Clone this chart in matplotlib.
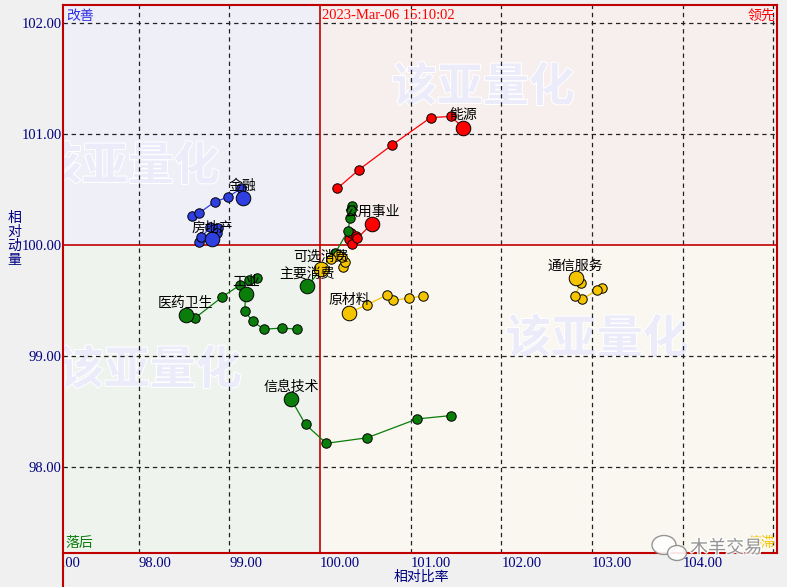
import matplotlib
matplotlib.use('Agg')
import matplotlib.pyplot as plt
import matplotlib.patheffects as pe
from matplotlib.patches import Rectangle, Ellipse
from matplotlib.lines import Line2D
from matplotlib.transforms import Bbox

CJK = ['Noto Sans CJK SC', 'DejaVu Sans']
plt.rcParams['font.family'] = CJK

# ---------------- data (oldest -> latest, last point = current) ----------------
energy_rs = [100.19, 100.43, 100.79, 101.22, 101.44, 101.58]
energy_rm = [100.51, 100.68, 100.90, 101.15, 101.16, 101.06]

utilities_rs = [100.32, 100.35, 100.34, 100.40, 100.41, 100.57]
utilities_rm = [100.05, 100.01, 100.11, 100.08, 100.06, 100.19]

staples_rs = [100.35, 100.34, 100.33, 100.31, 100.17, 99.86]
staples_rm = [100.35, 100.32, 100.24, 100.13, 99.93, 99.63]

discretionary_rs = [100.25, 100.27, 100.24, 100.20, 100.12, 100.01]
discretionary_rm = [99.80, 99.85, 99.89, 99.91, 99.87, 99.78]

health_rs = [99.31, 99.22, 99.12, 98.92, 98.62, 98.52]
health_rm = [99.70, 99.68, 99.64, 99.53, 99.34, 99.37]

industrials_rs = [99.75, 99.58, 99.38, 99.26, 99.17, 99.18]
industrials_rm = [99.24, 99.25, 99.24, 99.31, 99.40, 99.56]

tech_rs = [101.44, 101.07, 100.52, 100.07, 99.84, 99.68]
tech_rm = [98.46, 98.43, 98.26, 98.21, 98.38, 98.61]

materials_rs = [101.14, 100.98, 100.81, 100.74, 100.52, 100.32]
materials_rm = [99.54, 99.52, 99.50, 99.55, 99.46, 99.39]

telecom_rs = [103.11, 103.05, 102.89, 102.81, 102.88, 102.82]
telecom_rm = [99.61, 99.59, 99.51, 99.54, 99.66, 99.70]

finance_rs = [98.59, 98.67, 98.84, 98.98, 99.13, 99.15]
finance_rm = [100.26, 100.29, 100.39, 100.43, 100.51, 100.42]

realestate_rs = [98.67, 98.69, 98.79, 98.88, 98.86, 98.81]
realestate_rm = [100.03, 100.07, 100.16, 100.15, 100.11, 100.05]

sector_names = ['能源', '公用事业', '主要消费', '可选消费', '医药卫生', '工业',
                '信息技术', '原材料', '通信服务', '金融', '房地产']

x_ticks = [97, 98, 99, 100, 101, 102, 103, 104]
y_ticks = [98, 99, 100, 101, 102]
timestamp = '2023-Mar-06 15:10:02'

RED = '#FF0000'
BLUE = '#2F3FE0'
GREEN = '#0A7D0A'
GOLD = '#F5C400'

series = [
    (energy_rs, energy_rm, RED),
    (utilities_rs, utilities_rm, RED),
    (staples_rs, staples_rm, GREEN),
    (discretionary_rs, discretionary_rm, GOLD),
    (health_rs, health_rm, GREEN),
    (industrials_rs, industrials_rm, GREEN),
    (tech_rs, tech_rm, GREEN),
    (materials_rs, materials_rm, GOLD),
    (telecom_rs, telecom_rm, GOLD),
    (finance_rs, finance_rm, BLUE),
    (realestate_rs, realestate_rm, BLUE),
]

# ---------------- figure ----------------
W, H = 787, 587
fig = plt.figure(figsize=(W / 100, H / 100), dpi=100, facecolor='#F0F0F0')
L, R, T, B = 63, 777, 5, 553
ax = fig.add_axes([L / W, 1 - B / H, (R - L) / W, (B - T) / H])
x0, x1 = 97.166, 105.039
y0, y1 = 97.220, 102.166
ax.set_xlim(x0, x1)
ax.set_ylim(y0, y1)

# quadrant backgrounds
quads = [((x0, 100), 100 - x0, y1 - 100, '#EFEFF8'),
         ((100, 100), x1 - 100, y1 - 100, '#F7EFEE'),
         ((x0, y0), 100 - x0, 100 - y0, '#EEF3ED'),
         ((100, y0), x1 - 100, 100 - y0, '#F9F7F0')]
for xy, w, h, c in quads:
    ax.add_patch(Rectangle(xy, w, h, facecolor=c, edgecolor='none', zorder=0))

# watermarks
wm_kw = dict(fontsize=33, fontweight='heavy', color='#EBEBFA', ha='center', va='center',
             zorder=1, clip_on=True,
             path_effects=[pe.withStroke(linewidth=1.5, foreground='#FFFFFF')])
for px, py in [(483, 88), (128, 167), (150, 371), (597, 340)]:
    ax.text(x0 + (px - L) / (R - L) * (x1 - x0), y1 - (py - T) / (B - T) * (y1 - y0),
            '该亚量化', **wm_kw)

# grid
for xv in [98, 99, 101, 102, 103, 104, 105]:
    ax.axvline(xv, color='#222222', lw=0.9, ls=(0, (3.5, 3)), zorder=2)
for yv in [98, 99, 101, 102]:
    ax.axhline(yv, color='#222222', lw=0.9, ls=(0, (3.5, 3)), zorder=2)

# center lines
ax.axvline(100, color='#C00000', lw=1.2, zorder=3)
ax.axhline(100, color='#C00000', lw=1.2, zorder=3)

for s in ax.spines.values():
    s.set_color('#C00000')
    s.set_linewidth(1.5)
fig.add_artist(Line2D([L / W, L / W], [0, 1 - B / H], transform=fig.transFigure,
                      color='#C00000', lw=1.5))

# trails
for xs, ys, c in series:
    ax.plot(xs, ys, color=c, lw=0.9, zorder=4)
    ax.plot(xs[:-1], ys[:-1], ls='none', marker='o', ms=6.8, mfc=c, mec='black',
            mew=0.7, zorder=5)
    ax.plot(xs[-1:], ys[-1:], ls='none', marker='o', ms=10.5, mfc=c, mec='black',
            mew=0.7, zorder=6)

for name, (xs, ys, c) in zip(sector_names, series):
    ax.annotate(name, (xs[-1], ys[-1]), xytext=(0, 8.8), textcoords='offset points',
                ha='center', va='center', fontsize=10, color='black', zorder=7)

# ticks
ax.tick_params(length=0)
ax.set_yticks(y_ticks)
ax.set_yticklabels([f'{v:.2f}' for v in y_ticks], family='Liberation Serif',
                   fontsize=10.5, color='#000080')
ax.tick_params(axis='y', pad=1)
ax.set_xticks([])
clip = Bbox([[L, 0], [W, H]])
for v in x_ticks:
    t = ax.text(v, -0.0065, f'{v:.2f}', transform=ax.get_xaxis_transform(),
                ha='left', va='top', family='Liberation Serif', fontsize=10.5,
                color='#000080', clip_on=False)
    t.set_clip_box(clip)
    t.set_clip_on(True)

fig.text(421 / W, 1 - 577 / H, '相对比率', ha='center', va='center', fontsize=10,
         color='#000080')
fig.text(14 / W, 1 - 239 / H, '相\n对\n动\n量', ha='center', va='center', fontsize=10,
         color='#000080', linespacing=0.98)

# quadrant labels / timestamp
ax.text(0.004, 0.993, '改善', transform=ax.transAxes, ha='left', va='top', fontsize=10,
        color='#3030E0', zorder=8)
ax.text(0.997, 0.993, '领先', transform=ax.transAxes, ha='right', va='top', fontsize=10,
        color='#FF0000', zorder=8)
ax.text(0.004, 0.005, '落后', transform=ax.transAxes, ha='left', va='bottom', fontsize=10,
        color='#0A7D0A', zorder=8)
ax.text(0.997, 0.005, '停滞', transform=ax.transAxes, ha='right', va='bottom', fontsize=10,
        color='#F5C400', zorder=8)
ax.text(100.025, 0.993, timestamp, transform=ax.get_xaxis_transform(), ha='left', va='top',
        family='Liberation Serif', fontsize=10.5, color='#FF0000', zorder=8)

# overlay watermark (bottom right)
for (cx, cy, ew, eh) in [(664, 545, 24, 19), (677, 553, 19, 15)]:
    fig.add_artist(Ellipse((cx / W, 1 - cy / H), ew / W, eh / H, transform=fig.transFigure,
                           facecolor='white', edgecolor='#8A8A8A', lw=1.0, alpha=0.9))
fig.text(726 / W, 1 - 548 / H, '木羊交易', ha='center', va='center', fontsize=13,
         color='#8A8A8A', alpha=0.9,
         path_effects=[pe.withStroke(linewidth=2, foreground='white')])

fig.savefig('out.png', dpi=100, facecolor=fig.get_facecolor())
